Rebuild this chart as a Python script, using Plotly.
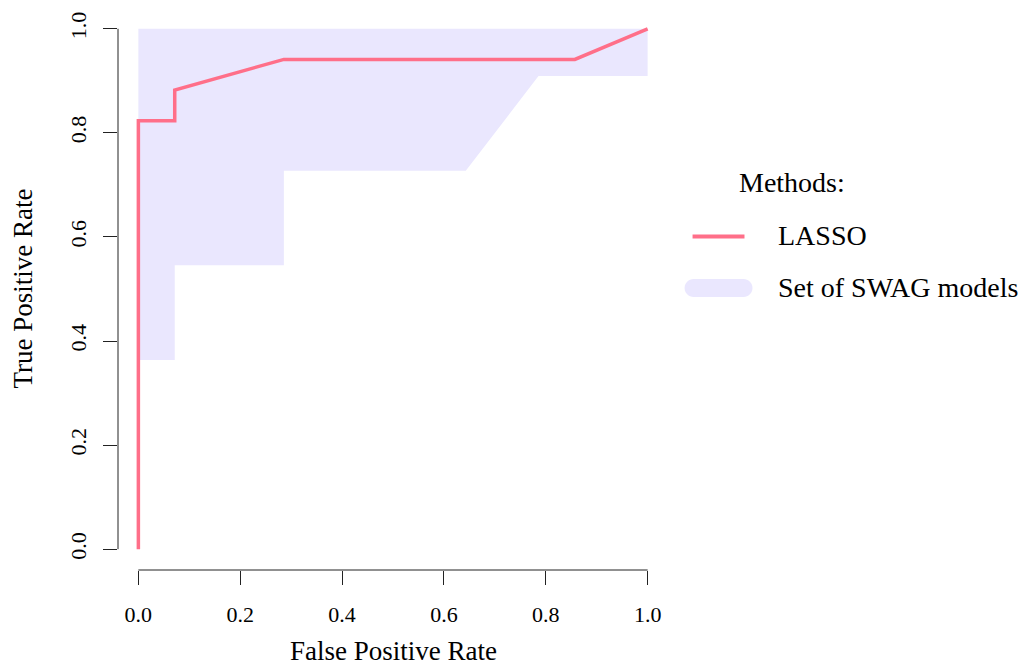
import plotly.graph_objects as go

# LASSO ROC curve
lasso_fpr = [0.0, 0.0, 0.0714, 0.0714, 0.2857, 0.8571, 1.0]
lasso_tpr = [0.0, 0.8235, 0.8235, 0.8824, 0.9412, 0.9412, 1.0]

# Set of SWAG models band
swag_fpr = [0.0, 0.0714, 0.0714, 0.2857, 0.2857, 0.6429, 0.7857, 1.0]
swag_lower = [0.3636, 0.3636, 0.5455, 0.5455, 0.7273, 0.7273, 0.9091, 0.9091]
swag_upper = [1.0, 1.0, 1.0, 1.0, 1.0, 1.0, 1.0, 1.0]

tick_vals = [0.0, 0.2, 0.4, 0.6, 0.8, 1.0]
tick_text = ["0.0", "0.2", "0.4", "0.6", "0.8", "1.0"]

LINE_COLOR = "#FF6F89"
FILL_COLOR = "#EAE7FE"
FONT = "Liberation Serif"

W, H = 1031, 667
ML, MR, MT, MB = 117.6, 362.6, 8.2, 97.2
PW = W - ML - MR
PH = H - MT - MB

def px2paper_x(px):
    return (px - ML) / PW

def px2paper_y(py):
    return (H - MB - py) / PH

band_x = swag_fpr + swag_fpr[::-1]
band_y = swag_upper + swag_lower[::-1]

fig = go.Figure()
fig.add_trace(go.Scatter(
    x=band_x, y=band_y, fill="toself", fillcolor=FILL_COLOR,
    mode="lines", line=dict(width=0, color=FILL_COLOR),
    hoverinfo="skip", showlegend=False,
))
fig.add_trace(go.Scatter(
    x=lasso_fpr, y=lasso_tpr, mode="lines",
    line=dict(color=LINE_COLOR, width=3.5),
    showlegend=False,
))

axis_common = dict(
    showgrid=False, zeroline=False, showline=False,
    ticks="outside", ticklen=14, tickwidth=1, tickcolor="#222222",
    tickvals=tick_vals, ticktext=tick_text,
    tickfont=dict(family=FONT, size=22, color="black"),
    range=[-0.04, 1.04], fixedrange=True,
)
fig.update_xaxes(**axis_common, ticklabelstandoff=11)
fig.update_yaxes(**axis_common, tickangle=-90, ticklabelstandoff=8)

shapes = [
    # x axis line (from 0 to 1)
    dict(type="line", xref="x", yref="paper", x0=0, x1=1, y0=0, y1=0,
         line=dict(color="#222222", width=1)),
    # y axis line
    dict(type="line", xref="paper", yref="y", x0=0, x1=0, y0=0, y1=1,
         line=dict(color="#222222", width=1)),
    # legend LASSO line
    dict(type="line", xref="paper", yref="paper",
         x0=px2paper_x(693), x1=px2paper_x(745),
         y0=px2paper_y(236.5), y1=px2paper_y(236.5),
         line=dict(color=LINE_COLOR, width=4)),
]

# legend band symbol: rounded bar
x0, x1, yt, yb = 685, 753, 279, 297
r = (yb - yt) / 2
k = 0.5523 * r
pts = [
    f"M{px2paper_x(x0 + r)},{px2paper_y(yt)}",
    f"L{px2paper_x(x1 - r)},{px2paper_y(yt)}",
    f"C{px2paper_x(x1 - r + k)},{px2paper_y(yt)} {px2paper_x(x1)},{px2paper_y(yt + r - k)} {px2paper_x(x1)},{px2paper_y(yt + r)}",
    f"C{px2paper_x(x1)},{px2paper_y(yt + r + k)} {px2paper_x(x1 - r + k)},{px2paper_y(yb)} {px2paper_x(x1 - r)},{px2paper_y(yb)}",
    f"L{px2paper_x(x0 + r)},{px2paper_y(yb)}",
    f"C{px2paper_x(x0 + r - k)},{px2paper_y(yb)} {px2paper_x(x0)},{px2paper_y(yb - r + k)} {px2paper_x(x0)},{px2paper_y(yb - r)}",
    f"C{px2paper_x(x0)},{px2paper_y(yt + r - k)} {px2paper_x(x0 + r - k)},{px2paper_y(yt)} {px2paper_x(x0 + r)},{px2paper_y(yt)}",
    "Z",
]
shapes.append(dict(type="path", xref="paper", yref="paper", path=" ".join(pts),
                   fillcolor=FILL_COLOR, line=dict(width=0)))

annotations = [
    dict(text="False Positive Rate", xref="paper", yref="paper",
         x=px2paper_x(393), y=px2paper_y(668), xanchor="center", yanchor="bottom",
         showarrow=False, font=dict(family=FONT, size=27, color="black")),
    dict(text="True Positive Rate", xref="paper", yref="paper",
         x=px2paper_x(22), y=px2paper_y(289), xanchor="center", yanchor="middle",
         textangle=-90, showarrow=False, font=dict(family=FONT, size=27, color="black")),
    dict(text="Methods:", xref="paper", yref="paper",
         x=px2paper_x(793), y=px2paper_y(183), xanchor="center", yanchor="middle",
         showarrow=False, font=dict(family=FONT, size=28, color="black")),
    dict(text="LASSO", xref="paper", yref="paper",
         x=px2paper_x(777), y=px2paper_y(236), xanchor="left", yanchor="middle",
         showarrow=False, font=dict(family=FONT, size=28, color="black")),
    dict(text="Set of SWAG models", xref="paper", yref="paper",
         x=px2paper_x(777), y=px2paper_y(288), xanchor="left", yanchor="middle",
         showarrow=False, font=dict(family=FONT, size=28, color="black")),
]

fig.update_layout(
    width=W, height=H,
    margin=dict(l=ML, r=MR, t=MT, b=MB, pad=0),
    paper_bgcolor="white", plot_bgcolor="white",
    shapes=shapes, annotations=annotations,
    showlegend=False,
)

fig.write_html("out.html", include_plotlyjs=True, config={"displayModeBar": False})
